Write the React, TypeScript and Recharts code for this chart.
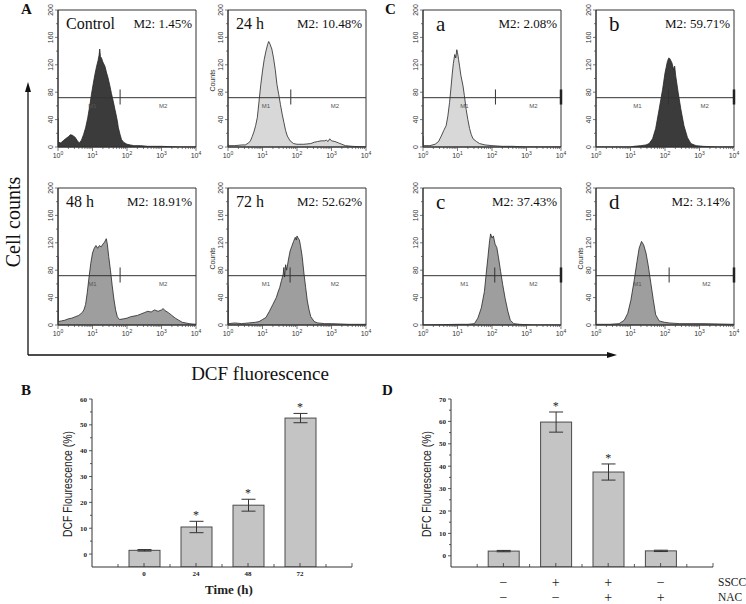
import {
  AreaChart, Area, XAxis, YAxis, ReferenceLine, ReferenceArea, ReferenceDot,
  ComposedChart, Bar, ErrorBar, Scatter,
} from 'recharts';

const SERIF = '"Liberation Serif", "Times New Roman", serif';
const SANS = '"Liberation Sans", Arial, sans-serif';

// histogram traces: [log10(DCF channel), counts]
const controlHist = [
  [0, 42], [0.01, 7], [0.08, 6], [0.15, 9], [0.22, 12], [0.3, 15], [0.36, 18], [0.42, 17], [0.5, 14],
  [0.56, 9], [0.62, 6], [0.68, 10], [0.74, 18], [0.8, 28], [0.86, 42], [0.92, 60], [0.97, 77],
  [1.02, 92], [1.07, 106], [1.12, 118], [1.16, 126], [1.19, 134], [1.21, 143], [1.23, 132],
  [1.26, 130], [1.3, 124], [1.36, 118], [1.41, 108], [1.45, 101], [1.5, 90], [1.55, 78], [1.6, 67],
  [1.65, 55], [1.68, 48], [1.72, 38], [1.75, 28], [1.8, 18], [1.84, 11], [1.9, 7], [2.0, 4],
  [2.1, 3], [2.2, 2], [2.4, 2], [2.6, 1], [3.0, 1], [3.5, 0], [4, 0],
];
const h24Hist = [
  [0, 4], [0.01, 2], [0.2, 2], [0.4, 3], [0.5, 3], [0.6, 6], [0.65, 9], [0.7, 15], [0.75, 22],
  [0.8, 31], [0.85, 43], [0.9, 67], [0.95, 91], [1.0, 111], [1.05, 128], [1.1, 140], [1.15, 150],
  [1.18, 154], [1.22, 150], [1.27, 143], [1.32, 130], [1.37, 113], [1.42, 91], [1.47, 77],
  [1.52, 62], [1.57, 48], [1.62, 36], [1.67, 24], [1.72, 16], [1.8, 9], [1.9, 5], [2.0, 4],
  [2.2, 4], [2.4, 5], [2.5, 7], [2.6, 8], [2.7, 9], [2.8, 9], [2.85, 10], [2.9, 8], [2.95, 12],
  [3.0, 9], [3.1, 8], [3.2, 6], [3.3, 4], [3.4, 2], [3.6, 1], [4, 0],
];
const h48Hist = [
  [0, 100], [0.01, 5], [0.1, 6], [0.2, 7], [0.3, 9], [0.4, 10], [0.5, 12], [0.6, 14], [0.7, 18],
  [0.75, 22], [0.8, 30], [0.85, 48], [0.9, 70], [0.95, 90], [1.0, 105], [1.05, 112], [1.1, 116],
  [1.15, 112], [1.2, 116], [1.25, 114], [1.3, 118], [1.35, 121], [1.4, 126], [1.43, 118],
  [1.47, 100], [1.52, 80], [1.57, 58], [1.62, 38], [1.67, 22], [1.72, 12], [1.78, 8], [1.9, 9],
  [2.0, 10], [2.1, 12], [2.2, 13], [2.3, 14], [2.4, 16], [2.5, 18], [2.6, 20], [2.7, 19],
  [2.8, 22], [2.9, 20], [3.0, 22], [3.05, 24], [3.1, 21], [3.2, 18], [3.3, 14], [3.4, 10],
  [3.5, 7], [3.6, 4], [3.8, 2], [4, 1],
];
const h72Hist = [
  [0, 58], [0.01, 2], [0.2, 3], [0.4, 2], [0.6, 3], [0.8, 4], [0.9, 5], [1.0, 8], [1.1, 11],
  [1.2, 20], [1.3, 30], [1.4, 40], [1.45, 48], [1.5, 55], [1.55, 65], [1.6, 74], [1.62, 84],
  [1.64, 70], [1.67, 88], [1.7, 80], [1.75, 95], [1.8, 108], [1.85, 115], [1.9, 122], [1.95, 128],
  [1.98, 124], [2.0, 130], [2.03, 127], [2.07, 124], [2.1, 116], [2.15, 100], [2.2, 76],
  [2.25, 55], [2.3, 35], [2.35, 22], [2.4, 12], [2.5, 5], [2.6, 3], [2.8, 2], [3.0, 2],
  [3.5, 1], [4, 1],
];
const aHist = [
  [0, 16], [0.01, 2], [0.2, 2], [0.35, 4], [0.45, 8], [0.53, 16], [0.6, 24], [0.67, 31], [0.72, 45],
  [0.77, 65], [0.81, 86], [0.85, 108], [0.88, 122], [0.92, 135], [0.95, 130], [0.98, 142],
  [1.0, 138], [1.03, 128], [1.06, 118], [1.1, 104], [1.16, 89], [1.2, 75], [1.25, 55], [1.3, 40],
  [1.35, 27], [1.4, 18], [1.45, 12], [1.55, 8], [1.64, 5], [1.8, 3], [2.0, 2], [2.3, 1],
  [2.6, 1], [3.0, 0], [4, 0],
];
const bHist = [
  [0, 0], [1.0, 0], [1.1, 1], [1.3, 2], [1.45, 3], [1.54, 5], [1.64, 12], [1.73, 27], [1.83, 55],
  [1.93, 84], [2.0, 108], [2.07, 125], [2.11, 130], [2.14, 129], [2.2, 123], [2.25, 113],
  [2.28, 118], [2.31, 104], [2.38, 80], [2.46, 55], [2.55, 31], [2.65, 14], [2.75, 5], [2.9, 2],
  [3.1, 1], [3.5, 0], [4, 0],
];
const cHist = [
  [0, 0], [1.0, 1], [1.3, 1], [1.49, 2], [1.59, 10], [1.69, 25], [1.78, 49], [1.83, 74], [1.88, 98],
  [1.93, 123], [1.96, 133], [2.0, 127], [2.04, 130], [2.09, 118], [2.14, 113], [2.19, 98],
  [2.25, 78], [2.31, 59], [2.38, 39], [2.46, 20], [2.53, 7], [2.63, 2], [2.8, 1], [3.2, 0], [4, 0],
];
const dHist = [
  [0, 1], [0.4, 1], [0.67, 2], [0.82, 7], [0.92, 17], [1.01, 36], [1.11, 66], [1.19, 93],
  [1.25, 112], [1.32, 122], [1.38, 117], [1.45, 105], [1.51, 88], [1.59, 61], [1.66, 37],
  [1.73, 15], [1.83, 6], [1.98, 4], [2.12, 3], [2.41, 2], [3.1, 2], [4, 1],
];

const m2A = [1.45, 10.48, 18.91, 52.62];
const m2C = [2.08, 59.71, 37.43, 3.14];

// panel B
const timeLabels = ['0', '24', '48', '72'];
const timeValues = [1.45, 10.48, 18.91, 52.62];
const timeErrors = [0.3, 2.2, 2.3, 1.8];
const timeStars = [false, true, true, true];

// panel D
const ssccRow = ['−', '+', '+', '−'];
const nacRow = ['−', '−', '+', '+'];
const treatValues = [2.1, 59.7, 37.4, 2.2];
const treatErrors = [0.3, 4.5, 3.6, 0.3];
const treatStars = [false, true, true, false];

const histTicksY = [0, 20, 40, 60, 80, 100, 120, 140, 160, 180, 200];
const bTicksY = [0, 5, 10, 15, 20, 25, 30, 35, 40, 45, 50, 55, 60];
const dTicksY = [0, 5, 10, 15, 20, 25, 30, 35, 40, 45, 50, 55, 60, 65, 70];
const barTicksX = [-0.5, 0, 0.5, 1, 1.5, 2, 2.5, 3, 3.5, 4];

const logTicks: number[] = [];
for (let d = 0; d < 4; d++) for (let k = 1; k < 10; k++) logTicks.push(d + Math.log10(k));
logTicks.push(4);

const DARK = '#3b3b3b';
const LIGHT = '#d8d8d8';
const MID = '#9e9e9e';

type HistCfg = {
  name: string; m2: number; pts: number[][]; fill: string; left: number; top: number;
  gate: number; endMark: boolean; counts: boolean; big: boolean; m1x: number; m2x: number;
};

const histPanels: HistCfg[] = [
  { name: 'Control', m2: m2A[0], pts: controlHist, fill: DARK, left: 58, top: 10, gate: 1.8, endMark: false, counts: false, big: false, m1x: 1.0, m2x: 3.05 },
  { name: '24 h', m2: m2A[1], pts: h24Hist, fill: LIGHT, left: 228, top: 10, gate: 1.82, endMark: false, counts: true, big: false, m1x: 1.1, m2x: 3.1 },
  { name: '48 h', m2: m2A[2], pts: h48Hist, fill: MID, left: 58, top: 188, gate: 1.8, endMark: false, counts: false, big: false, m1x: 1.0, m2x: 3.05 },
  { name: '72 h', m2: m2A[3], pts: h72Hist, fill: MID, left: 228, top: 188, gate: 1.8, endMark: false, counts: true, big: false, m1x: 1.1, m2x: 3.1 },
  { name: 'a', m2: m2C[0], pts: aHist, fill: LIGHT, left: 423, top: 10, gate: 2.1, endMark: true, counts: false, big: true, m1x: 1.2, m2x: 3.2 },
  { name: 'b', m2: m2C[1], pts: bHist, fill: DARK, left: 596, top: 10, gate: 2.1, endMark: true, counts: false, big: true, m1x: 1.2, m2x: 3.15 },
  { name: 'c', m2: m2C[2], pts: cHist, fill: MID, left: 423, top: 188, gate: 2.08, endMark: true, counts: false, big: true, m1x: 1.2, m2x: 3.2 },
  { name: 'd', m2: m2C[3], pts: dHist, fill: MID, left: 596, top: 188, gate: 2.12, endMark: true, counts: true, big: true, m1x: 1.2, m2x: 3.2 },
];

const PW = 138, PH = 137, YW = 26, MT = 6, MR = 6, XH = 16;

const HistXTick = (p: any) => {
  const v = p.payload.value;
  const major = Number.isInteger(v);
  return (
    <g>
      <line x1={p.x} x2={p.x} y1={p.y} y2={p.y + (major ? 4 : 2)} stroke="#444" strokeWidth={0.7} />
      {major && (
        <text x={p.x} y={p.y + 11} textAnchor="middle" fontSize={7} fontFamily={SANS} fill="#333">
          10<tspan dy={-3} fontSize={5}>{v}</tspan>
        </text>
      )}
    </g>
  );
};

const HistYTick = (p: any) => {
  const v = p.payload.value;
  const major = v % 40 === 0;
  const tx = p.x - 5;
  return (
    <g>
      <line x1={p.x - (major ? 3 : 2)} x2={p.x} y1={p.y} y2={p.y} stroke="#444" strokeWidth={0.7} />
      {major && (
        <text x={tx} y={p.y} transform={`rotate(-90 ${tx} ${p.y})`} textAnchor="middle" fontSize={7} fontFamily={SANS} fill="#333">
          {v}
        </text>
      )}
    </g>
  );
};

const gateText = (label: string) => (p: any) => (
  <text x={p.cx} y={p.cy} textAnchor="middle" fontSize={6} fontFamily={SANS} fill="#555">{label}</text>
);

const HistPanel = ({ p }: { p: HistCfg }) => {
  const data = p.pts.map(([x, y]) => ({ x, y }));
  return (
    <div style={{ position: 'absolute', left: p.left - YW, top: p.top - MT }}>
      <AreaChart width={YW + PW + MR} height={MT + PH + XH} data={data} margin={{ top: MT, right: MR, bottom: 0, left: 0 }}>
        <XAxis dataKey="x" type="number" domain={[0, 4]} ticks={logTicks} interval={0} tick={<HistXTick />}
          tickLine={false} tickSize={0} tickMargin={0} height={XH} axisLine={{ stroke: '#333' }} allowDataOverflow />
        <YAxis type="number" domain={[0, 200]} ticks={histTicksY} interval={0} tick={<HistYTick />}
          tickLine={false} tickSize={0} tickMargin={0} width={YW} axisLine={{ stroke: '#333' }} allowDataOverflow />
        <Area type="linear" dataKey="y" stroke="#262626" strokeWidth={0.8} fill={p.fill} fillOpacity={1}
          dot={false} activeDot={false} isAnimationActive={false} />
        <ReferenceArea x1={0} x2={4} y1={0} y2={200} fill="none" stroke="#333" strokeWidth={1} ifOverflow="visible" />
        <ReferenceLine y={72} stroke="#333" strokeWidth={1} />
        <ReferenceLine segment={[{ x: p.gate, y: 62 }, { x: p.gate, y: 84 }]} stroke="#333" strokeWidth={1} />
        {p.endMark && (
          <ReferenceLine segment={[{ x: 4, y: 62 }, { x: 4, y: 84 }]} stroke="#222" strokeWidth={2.5} ifOverflow="visible" />
        )}
        <ReferenceDot x={p.m1x} y={57} r={0} shape={gateText('M1')} />
        <ReferenceDot x={p.m2x} y={57} r={0} shape={gateText('M2')} />
      </AreaChart>
    </div>
  );
};

const barYTick = (step: number) => (p: any) => {
  const v = p.payload.value;
  const major = v % step === 0;
  return (
    <g>
      <line x1={p.x - (major ? 3 : 2)} x2={p.x} y1={p.y} y2={p.y} stroke="#333" strokeWidth={0.8} />
      {major && (
        <text x={p.x - 5} y={p.y + 2.5} textAnchor="end" fontSize={7} fontWeight="bold" fontFamily={SERIF} fill="#222">{v}</text>
      )}
    </g>
  );
};

const TimeTick = (p: any) => {
  const v = p.payload.value;
  const major = Number.isInteger(v);
  return (
    <g>
      <line x1={p.x} x2={p.x} y1={p.y} y2={p.y - (major ? 4 : 3)} stroke="#333" strokeWidth={0.8} />
      {major && timeLabels[v] !== undefined && (
        <text x={p.x} y={p.y + 9} textAnchor="middle" fontSize={7} fontWeight="bold" fontFamily={SERIF} fill="#222">{timeLabels[v]}</text>
      )}
    </g>
  );
};

const TreatTick = (p: any) => {
  const v = p.payload.value;
  const major = Number.isInteger(v);
  return (
    <g>
      <line x1={p.x} x2={p.x} y1={p.y} y2={p.y - (major ? 4 : 3)} stroke="#333" strokeWidth={0.8} />
      {major && ssccRow[v] !== undefined && (
        <g fontFamily={SERIF} fontSize={14} fill="#222" textAnchor="middle">
          <text x={p.x} y={p.y + 20}>{ssccRow[v]}</text>
          <text x={p.x} y={p.y + 35}>{nacRow[v]}</text>
        </g>
      )}
      {v === 4 && (
        <g fontFamily={SERIF} fontSize={11.5} fill="#222">
          <text x={p.x + 5} y={p.y + 19}>SSCC</text>
          <text x={p.x + 5} y={p.y + 34}>NAC</text>
        </g>
      )}
    </g>
  );
};

const BarToAxis = (p: any) => {
  const bottom = p.background ? p.background.y + p.background.height : p.y + p.height;
  return <rect x={p.x} y={p.y} width={p.width} height={bottom - p.y} fill="#c4c4c4" stroke="#4a4a4a" strokeWidth={1} />;
};

const StarShape = (p: any) => (
  <text x={p.cx} y={p.cy - 2} textAnchor="middle" fontSize={12} fontFamily={SERIF} fill="#222">*</text>
);

type BarPanelProps = {
  left: number; top: number; plotW: number; yMax: number; yTicks: number[];
  values: number[]; errors: number[]; stars: boolean[]; tick: any; extraRight: number; xh: number;
};

const BarPanel = (b: BarPanelProps) => {
  const data = b.values.map((v, i) => ({ idx: i, value: v, err: b.errors[i] }));
  const starData = data.filter((_, i) => b.stars[i]).map((d) => ({ idx: d.idx, top: d.value + d.err }));
  const YAW = 52;
  return (
    <div style={{ position: 'absolute', left: b.left - YAW, top: b.top - 10 }}>
      <ComposedChart width={YAW + b.plotW + b.extraRight} height={10 + 168 + b.xh} data={data}
        margin={{ top: 10, right: b.extraRight, bottom: 0, left: 0 }}>
        <XAxis dataKey="idx" type="number" domain={[-1, 4]} ticks={barTicksX} interval={0} tick={b.tick}
          tickLine={false} tickSize={0} tickMargin={0} height={b.xh} axisLine={{ stroke: '#333' }} allowDataOverflow />
        <YAxis type="number" domain={[-5, b.yMax]} ticks={b.yTicks} interval={0} tick={barYTick(10)}
          tickLine={false} tickSize={0} tickMargin={0} width={YAW} axisLine={{ stroke: '#333' }} allowDataOverflow />
        <Bar dataKey="value" barSize={31} shape={BarToAxis} isAnimationActive={false}>
          <ErrorBar dataKey="err" width={7} stroke="#333" strokeWidth={1} direction="y" />
        </Bar>
        <Scatter data={starData} dataKey="top" shape={StarShape} isAnimationActive={false} />
      </ComposedChart>
    </div>
  );
};

export default function App() {
  const ax = 28, ay = 355;
  return (
    <div style={{ position: 'absolute', left: 0, top: 0, width: 746, height: 604, background: '#fff', overflow: 'hidden' }}>
      {histPanels.map((p) => <HistPanel key={p.name} p={p} />)}

      <BarPanel left={92} top={399} plotW={260} yMax={60} yTicks={bTicksY} values={timeValues}
        errors={timeErrors} stars={timeStars} tick={<TimeTick />} extraRight={10} xh={28} />
      <BarPanel left={451} top={399} plotW={262} yMax={70} yTicks={dTicksY} values={treatValues}
        errors={treatErrors} stars={treatStars} tick={<TreatTick />} extraRight={34} xh={37} />

      <svg width={746} height={604} style={{ position: 'absolute', left: 0, top: 0, pointerEvents: 'none' }}>
        <g fontFamily={SERIF} fontWeight="bold" fontSize={15} fill="#111">
          <text x={21} y={14}>A</text>
          <text x={385} y={14}>C</text>
          <text x={21} y={395}>B</text>
          <text x={382} y={395}>D</text>
        </g>

        {/* big axes of panel A/C */}
        <line x1={ax} y1={ay} x2={ax} y2={90} stroke="#111" strokeWidth={1.3} />
        <polygon points={`${ax},82 ${ax - 3},92 ${ax + 3},92`} fill="#111" />
        <line x1={ax} y1={ay} x2={608} y2={ay} stroke="#111" strokeWidth={1.3} />
        <polygon points={`617,${ay} 607,${ay - 3} 607,${ay + 3}`} fill="#111" />
        <text x={20} y={222} transform="rotate(-90 20 222)" textAnchor="middle" fontFamily={SERIF} fontSize={20} fill="#111">Cell counts</text>
        <text x={260} y={380} textAnchor="middle" fontFamily={SERIF} fontSize={19} fill="#111">DCF fluorescence</text>

        {histPanels.map((p) => (
          <g key={p.name} fontFamily={SERIF} fill="#111">
            <text x={p.left + (p.big ? 13 : 8)} y={p.top + (p.big ? 21 : 19)} fontSize={p.big ? 21 : 16}>{p.name}</text>
            <text x={p.left + PW - 4} y={p.top + 18} textAnchor="end" fontSize={13}>{`M2: ${p.m2.toFixed(2)}%`}</text>
            {p.counts && (
              <text x={p.left - 13} y={p.top + PH / 2 + 2} transform={`rotate(-90 ${p.left - 13} ${p.top + PH / 2 + 2})`}
                textAnchor="middle" fontFamily={SANS} fontSize={7} fill="#333">Counts</text>
            )}
          </g>
        ))}

        <text x={72} y={484} transform="rotate(-90 72 484)" textAnchor="middle" fontFamily={SANS} fontSize={12}
          textLength={106} lengthAdjust="spacingAndGlyphs" fill="#222">DCF Flourescence (%)</text>
        <text x={431} y={484} transform="rotate(-90 431 484)" textAnchor="middle" fontFamily={SANS} fontSize={12}
          textLength={106} lengthAdjust="spacingAndGlyphs" fill="#222">DFC Flourescence (%)</text>
        <text x={229} y={594} textAnchor="middle" fontFamily={SERIF} fontWeight="bold" fontSize={13} fill="#222">Time (h)</text>
      </svg>
    </div>
  );
}
